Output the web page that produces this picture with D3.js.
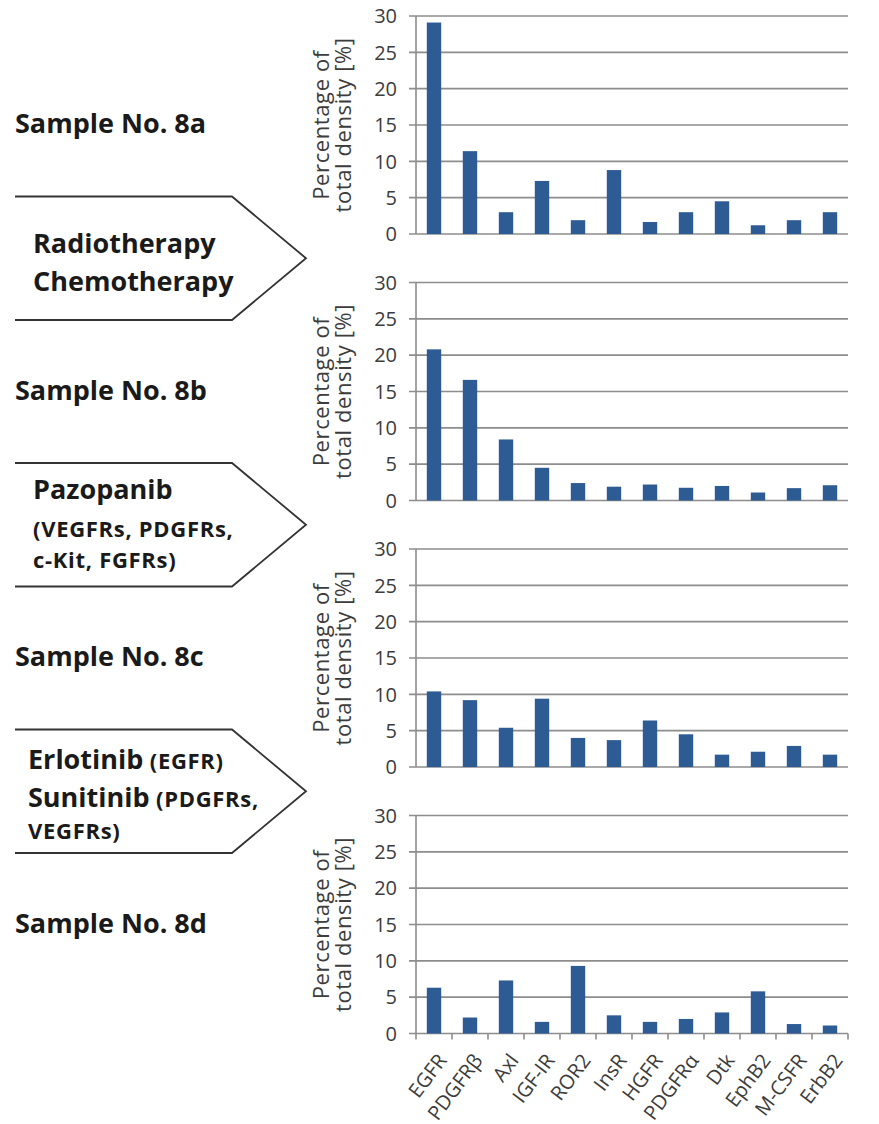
<!DOCTYPE html>
<html>
<head>
<meta charset="utf-8">
<script src="https://cdn.jsdelivr.net/npm/d3@7"></script>
<style>
  body { margin: 0; background: #fff; }
  svg { font-family: "Open Sans", sans-serif; }
</style>
</head>
<body>
<div id="chart"></div>
<script>
// kinases on the x axis (same for every panel)
const categories = ["EGFR", "PDGFRβ", "Axl", "IGF-IR", "ROR2", "InsR", "HGFR", "PDGFRα", "Dtk", "EphB2", "M-CSFR", "ErbB2"];

// percentage of total density
const sample8a = [29.1, 11.4, 3.0, 7.3, 1.9, 8.8, 1.65, 3.0, 4.5, 1.2, 1.9, 3.0];
const sample8b = [20.8, 16.6, 8.4, 4.5, 2.4, 1.9, 2.2, 1.75, 2.0, 1.1, 1.7, 2.1];
const sample8c = [10.4, 9.2, 5.4, 9.4, 4.0, 3.7, 6.4, 4.5, 1.7, 2.1, 2.9, 1.7];
const sample8d = [6.3, 2.2, 7.3, 1.6, 9.3, 2.5, 1.6, 2.0, 2.9, 5.8, 1.3, 1.1];

const yTicks = [0, 5, 10, 15, 20, 25, 30];
const sampleNames = ["Sample No. 8a", "Sample No. 8b", "Sample No. 8c", "Sample No. 8d"];
const yTitle = ["Percentage of", "total density [%]"];

// treatment arrows: lines made of [text, isDrugName] pieces
const treatments = [
  [[["Radiotherapy", true]], [["Chemotherapy", true]]],
  [[["Pazopanib", true]], [["(VEGFRs, PDGFRs,", false]], [["c-Kit, FGFRs)", false]]],
  [[["Erlotinib", true], [" (EGFR)", false]], [["Sunitinib", true], [" (PDGFRs,", false]], [["VEGFRs)", false]]]
];

const svgWidth = 879;
const svgHeight = 1124;

const svg = d3.select("#chart")
  .append("svg")
  .attr("width", svgWidth)
  .attr("height", svgHeight);

const panels = [sample8a, sample8b, sample8c, sample8d];
const panelStep = 266.5;
const plotLeft = 416, plotRight = 848, plotTop = 16, plotHeight = 218;

const barColor = "#2d5b94";
const gridColor = "#8d8d8d";
const labelColor = "#3c3c3c";

const xScale = d3.scaleBand()
  .domain(categories)
  .range([plotLeft, plotRight])
  .paddingInner(0.6)
  .paddingOuter(0.3);

panels.forEach(function(values, i) {
  const top = plotTop + i * panelStep;
  const yScale = d3.scaleLinear()
    .domain([0, 30])
    .range([top + plotHeight, top]);

  const g = svg.append("g");

  // gridlines + y tick marks
  g.selectAll(".grid")
    .data(yTicks)
    .enter()
    .append("line")
    .attr("x1", plotLeft - 7)
    .attr("x2", plotRight)
    .attr("y1", d => yScale(d))
    .attr("y2", d => yScale(d))
    .attr("stroke", gridColor)
    .attr("stroke-width", 1.6);

  // y axis line
  g.append("line")
    .attr("x1", plotLeft).attr("x2", plotLeft)
    .attr("y1", yScale(30)).attr("y2", yScale(0))
    .attr("stroke", gridColor)
    .attr("stroke-width", 1.6);

  // tick labels
  g.selectAll(".ytick")
    .data(yTicks)
    .enter()
    .append("text")
    .attr("x", plotLeft - 19)
    .attr("y", d => yScale(d))
    .attr("dy", "0.36em")
    .attr("text-anchor", "end")
    .attr("font-size", 20)
    .attr("fill", labelColor)
    .text(d => d);

  // bars
  g.selectAll(".bar")
    .data(values)
    .enter()
    .append("rect")
    .attr("x", (d, j) => xScale(categories[j]))
    .attr("y", d => yScale(d))
    .attr("width", xScale.bandwidth())
    .attr("height", d => yScale(0) - yScale(d))
    .attr("fill", barColor);

  // y title, two rotated lines
  const cy = top + plotHeight / 2;
  yTitle.forEach(function(line, k) {
    g.append("text")
      .attr("transform", `translate(${329 + k * 22}, ${cy}) rotate(-90)`)
      .attr("text-anchor", "middle")
      .attr("font-size", 22)
      .attr("letter-spacing", 0.6)
      .attr("fill", labelColor)
      .text(line);
  });

  // sample name on the left
  svg.append("text")
    .attr("x", 15)
    .attr("y", 133 + i * panelStep)
    .attr("font-size", 27)
    .attr("font-weight", "bold")
    .attr("fill", "#1a1a1a")
    .text(sampleNames[i]);
});

// x axis ticks and labels only on the last panel
const lastBase = plotTop + 3 * panelStep + plotHeight;
const edges = categories.map(c => xScale(c) - xScale.step() * xScale.paddingInner() / 2)
  .concat([plotRight]);
svg.selectAll(".xtick")
  .data(edges)
  .enter()
  .append("line")
  .attr("x1", d => d).attr("x2", d => d)
  .attr("y1", lastBase).attr("y2", lastBase + 6)
  .attr("stroke", gridColor)
  .attr("stroke-width", 1.6);

svg.selectAll(".xlabel")
  .data(categories)
  .enter()
  .append("text")
  .attr("transform", d => `translate(${xScale(d) + xScale.bandwidth() / 2 + 8}, ${lastBase + 23}) rotate(-53)`)
  .attr("text-anchor", "end")
  .attr("dy", "0.35em")
  .attr("font-size", 20)
  .attr("fill", labelColor)
  .text(d => d);

// treatment arrows between the samples
const arrowTop0 = 196.5, arrowHeight = 123.5;
const lineOffsets = [[56, 94], [36, 74, 105], [39, 77, 109]];
const indent = [33, 33, 28];
treatments.forEach(function(lines, i) {
  const t = arrowTop0 + i * panelStep;
  const b = t + arrowHeight;
  svg.append("path")
    .attr("d", `M15,${t} L232,${t} L306,${(t + b) / 2} L232,${b} L15,${b}`)
    .attr("fill", "none")
    .attr("stroke", "#333")
    .attr("stroke-width", 1.8);

  lines.forEach(function(pieces, k) {
    const txt = svg.append("text")
      .attr("x", indent[i])
      .attr("y", t + lineOffsets[i][k])
      .attr("font-weight", "bold")
      .attr("fill", "#1a1a1a");
    pieces.forEach(function(p) {
      txt.append("tspan")
        .attr("font-size", p[1] ? 27 : 22)
        .attr("letter-spacing", p[1] ? 0 : 0.7)
        .text(p[0]);
    });
  });
});
</script>
</body>
</html>
